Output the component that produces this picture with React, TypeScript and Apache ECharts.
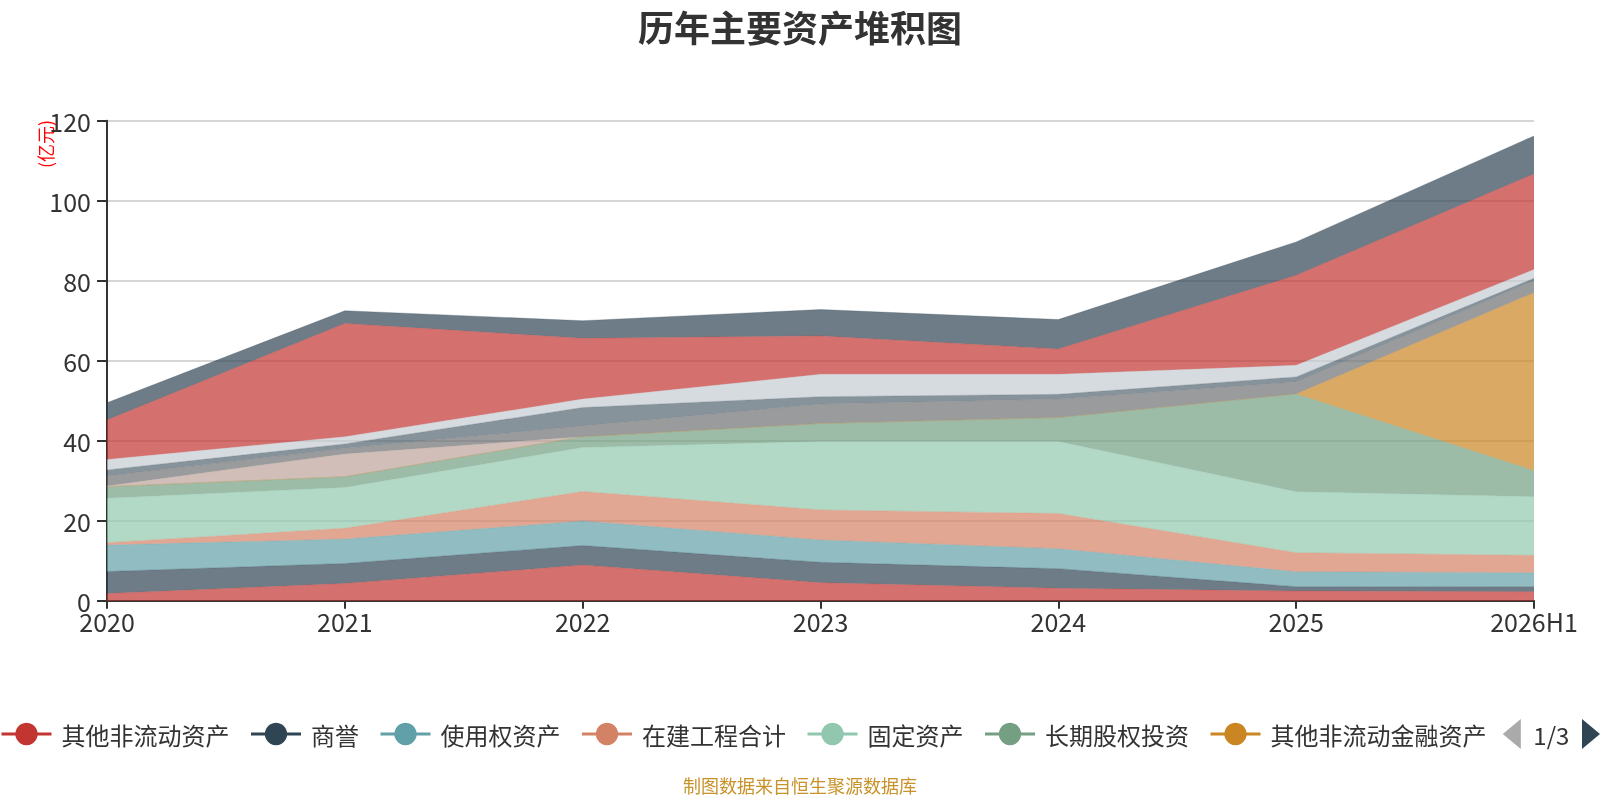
import React, { useEffect, useRef } from 'react';
import * as echarts from 'echarts';

const years = ['2020', '2021', '2022', '2023', '2024', '2025', '2026H1'];

const otherNonCurrent = [1.8, 4.3, 8.9, 4.5, 3.1, 2.4, 2.25];
const goodwill = [5.5, 5.0, 4.9, 5.1, 4.9, 1.1, 1.25];
const rightOfUse = [6.6, 6.1, 6.1, 5.6, 5.0, 3.75, 3.5];
const constructionInProgress = [0.6, 2.7, 7.4, 7.5, 8.8, 4.75, 4.35];
const fixedAssets = [11.1, 10.2, 11.0, 17.1, 18.0, 15.25, 14.65];
const longTermEquity = [2.9, 2.7, 2.7, 4.5, 6.0, 24.45, 6.5];
const otherNonCurrentFinancial = [0, 0, 0, 0, 0, 0, 44.5];
const developmentCost = [0.2, 5.7, 0, 0, 0, 0, 0];
const longTermPrepaid = [2.5, 1.4, 2.7, 4.9, 4.6, 3.0, 3.0];
const deferredTax = [1.5, 1.1, 4.6, 1.8, 1.2, 1.25, 0.6];
const investmentProperty = [2.6, 1.8, 2.1, 5.6, 5.0, 2.9, 2.2];
const intangibleAssets = [9.9, 28.3, 15.2, 9.6, 6.3, 22.5, 23.9];
const otherEquityInstruments = [4.3, 3.2, 4.4, 6.6, 7.4, 8.35, 9.5];
const longTermReceivables = [null, null, null, null, null, null, null];
const debtInvestments = [null, null, null, null, null, null, null];

const seriesNames = [
  '其他非流动资产',
  '商誉',
  '使用权资产',
  '在建工程合计',
  '固定资产',
  '长期股权投资',
  '其他非流动金融资产',
  '开发支出',
  '长期待摊费用',
  '递延所得税资产',
  '投资性房地产',
  '无形资产',
  '其他权益工具投资',
  '长期应收款',
  '债权投资',
];
const seriesValues = [
  otherNonCurrent,
  goodwill,
  rightOfUse,
  constructionInProgress,
  fixedAssets,
  longTermEquity,
  otherNonCurrentFinancial,
  developmentCost,
  longTermPrepaid,
  deferredTax,
  investmentProperty,
  intangibleAssets,
  otherEquityInstruments,
  longTermReceivables,
  debtInvestments,
];

const yTicks = { min: 0, max: 120, interval: 20 };

const palette = [
  '#c23531', '#2f4554', '#61a0a8', '#d48265', '#91c7ae', '#749f83',
  '#ca8622', '#bda29a', '#6e7074', '#546570', '#c4ccd3',
];

const FONT = '"Noto Sans CJK SC", "Noto Sans", sans-serif';

export default function App() {
  const ref = useRef<HTMLDivElement>(null);
  useEffect(() => {
    const chart = echarts.init(ref.current!, null, { renderer: 'svg' });
    chart.setOption({
      animation: false,
      color: palette,
      textStyle: { fontFamily: FONT },
      title: [
        {
          text: '历年主要资产堆积图',
          left: 'center',
          top: 3,
          textStyle: { fontSize: 36, fontWeight: 'bold', color: '#333', fontFamily: FONT },
        },
        {
          text: '制图数据来自恒生聚源数据库',
          left: 'center',
          top: 776,
          padding: 0,
          textStyle: { fontSize: 18, fontWeight: 'normal', color: '#c8922a', fontFamily: FONT },
        },
      ],
      legend: {
        type: 'scroll',
        left: 0,
        right: 0,
        top: 719,
        itemWidth: 50,
        itemHeight: 28,
        itemGap: 20,
        padding: 0,
        lineStyle: { width: 3, opacity: 1 },
        textStyle: { fontSize: 24, color: '#333', fontFamily: FONT, padding: [0, 0, 0, 5] },
        pageIconSize: 30,
        pageIconColor: '#2f4554',
        pageIconInactiveColor: '#aaa',
        pageButtonItemGap: 2,
        pageButtonGap: 10,
        pageTextStyle: { fontSize: 24, color: '#333', fontFamily: FONT },
        data: seriesNames,
      },
      grid: { left: 107, right: 66, top: 120.7, bottom: 199.3, containLabel: false },
      xAxis: {
        type: 'category',
        data: years,
        boundaryGap: false,
        axisLine: { lineStyle: { color: '#333', width: 2 } },
        axisTick: { length: 8, lineStyle: { color: '#333', width: 2 } },
        axisLabel: { fontSize: 25, color: '#333', margin: 8, fontFamily: FONT },
      },
      yAxis: {
        type: 'value',
        min: yTicks.min,
        max: yTicks.max,
        interval: yTicks.interval,
        axisLine: { show: true, lineStyle: { color: '#333', width: 2 } },
        axisTick: { show: true, length: 10, lineStyle: { color: '#333', width: 2 } },
        axisLabel: { fontSize: 25, color: '#333', margin: 16, fontFamily: FONT },
        splitLine: { lineStyle: { color: '#c8c8c8', width: 1.5 } },
      },
      graphic: [
        {
          type: 'text',
          x: 44.5,
          y: 144,
          rotation: Math.PI / 2,
          style: {
            text: '(亿元)',
            fill: '#ff0000',
            fontSize: 18,
            fontFamily: FONT,
            align: 'center',
            verticalAlign: 'middle',
          },
        },
      ],
      series: seriesNames.map((name, i) => ({
        name,
        type: 'line',
        stack: 'total',
        symbol: 'none',
        data: seriesValues[i],
        lineStyle: { width: 0.5, opacity: 0.5 },
        areaStyle: { opacity: 0.7 },
      })),
    });
    return () => chart.dispose();
  }, []);
  return (
    <div
      ref={ref}
      style={{ position: 'fixed', left: 0, top: 0, width: 1600, height: 800 }}
    />
  );
}
